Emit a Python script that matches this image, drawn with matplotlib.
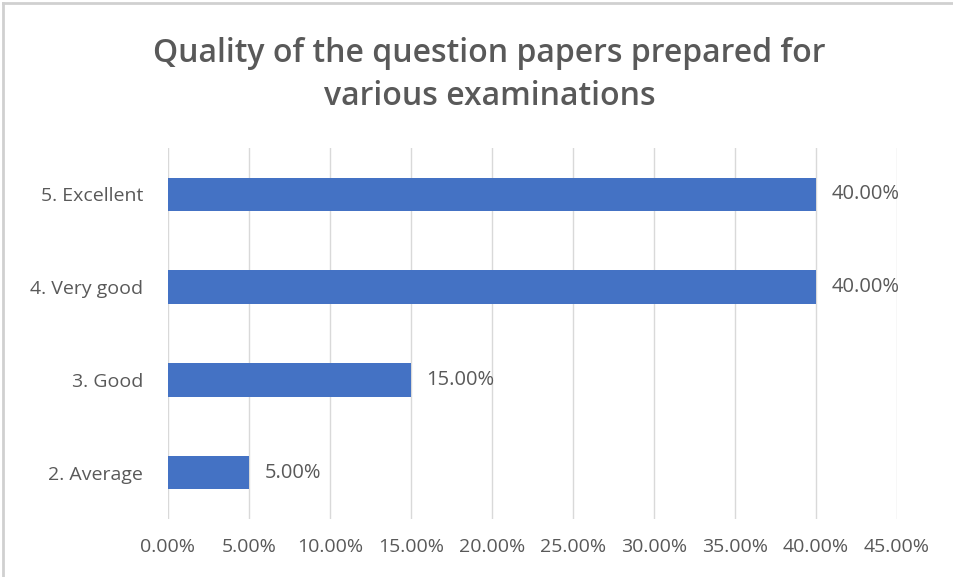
import matplotlib.pyplot as plt
from matplotlib.lines import Line2D
from matplotlib.ticker import FuncFormatter

categories = ["2. Average", "3. Good", "4. Very good", "5. Excellent"]
values = [5.0, 15.0, 40.0, 40.0]
x_ticks = [0, 5, 10, 15, 20, 25, 30, 35, 40, 45]

plt.rcParams['font.family'] = ['Open Sans', 'DejaVu Sans']
text_color = '#595959'

fig = plt.figure(figsize=(9.54, 5.77), dpi=100)
ax = fig.add_axes([168 / 954, 1 - 519 / 577, (897 - 168) / 954, (519 - 148) / 577])

ax.barh(categories, values, height=0.36, color='#4472C4', zorder=3)
for i, v in enumerate(values):
    ax.annotate(f"{v:.2f}%", (v, i), xytext=(11, 0), textcoords='offset points',
                va='center', ha='left', fontsize=14.5, color=text_color)

ax.set_xlim(0, 45)
ax.set_ylim(-0.5, len(categories) - 0.5)
ax.set_xticks(x_ticks)
ax.xaxis.set_major_formatter(FuncFormatter(lambda x, p: f"{x:.2f}%"))
ax.grid(axis='x', color='#d9d9d9', linewidth=1, zorder=0)
for s in ax.spines.values():
    s.set_visible(False)
ax.tick_params(axis='both', length=0, labelsize=14, labelcolor=text_color)
ax.tick_params(axis='x', pad=14)
ax.tick_params(axis='y', pad=18)

fig.text(0.513, 0.870, "Quality of the question papers prepared for\nvarious examinations",
         ha='center', va='center', fontsize=23, fontweight='semibold',
         color=text_color, linespacing=1.4)

# outer frame of the chart, only top and left edges are visible in the crop
fig.lines.append(Line2D([3 / 954, 1], [1 - 3 / 577, 1 - 3 / 577], transform=fig.transFigure,
                        color='#d0d0d0', linewidth=2))
fig.lines.append(Line2D([3 / 954, 3 / 954], [0, 1 - 3 / 577], transform=fig.transFigure,
                        color='#d0d0d0', linewidth=2))

fig.savefig("out.png", dpi=100)
